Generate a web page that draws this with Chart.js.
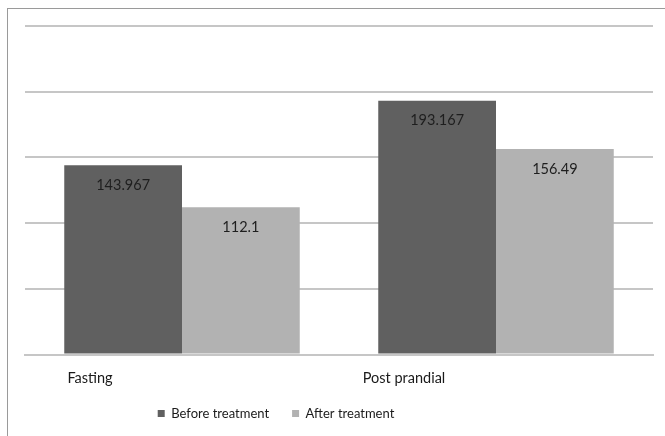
<!DOCTYPE html>
<html><head><meta charset="utf-8">
<script src="https://cdn.jsdelivr.net/npm/chart.js@4.4.1/dist/chart.umd.min.js"></script>
<style>
html,body{margin:0;padding:0;background:#fff;overflow:hidden;}
#wrap{position:relative;width:665px;height:436px;}
#frame{position:absolute;left:7px;top:8px;width:700px;height:500px;border-left:1px solid #9a9a9a;border-top:1px solid #9a9a9a;}
canvas{position:absolute;left:0;top:0;}
</style></head><body>
<div id="wrap"><div id="frame"></div><canvas id="c" width="665" height="436"></canvas></div>
<script>
const categories = ['Fasting', 'Post prandial'];
const seriesNames = ['Before treatment', 'After treatment'];
const beforeValues = [143.967, 193.167];
const afterValues = [112.1, 156.49];
const yTicks = [0, 50, 100, 150, 200, 250];

const FONT = 'Lato, sans-serif';

const valueLabels = {
  id: 'valueLabels',
  afterDatasetsDraw(chart) {
    const ctx = chart.ctx;
    ctx.save();
    ctx.font = '14.5px ' + FONT;
    ctx.fillStyle = '#1e1e1e';
    ctx.textAlign = 'center';
    ctx.textBaseline = 'middle';
    chart.data.datasets.forEach((ds, di) => {
      chart.getDatasetMeta(di).data.forEach((bar, i) => {
        ctx.fillText(String(ds.data[i]), bar.x, bar.y + 20);
      });
    });
    ctx.restore();
  }
};

const legendShift = {
  id: 'legendShift',
  afterLayout(chart) {
    const lg = chart.legend;
    if (lg) { lg.left -= 63; lg.right -= 63; lg.top -= 18; lg.bottom -= 18; }
  }
};

new Chart(document.getElementById('c'), {
  type: 'bar',
  data: {
    labels: categories,
    datasets: [
      { label: seriesNames[0], data: beforeValues, backgroundColor: '#606060', categoryPercentage: 0.75, barPercentage: 1 },
      { label: seriesNames[1], data: afterValues, backgroundColor: '#b2b2b2', categoryPercentage: 0.75, barPercentage: 1 }
    ]
  },
  options: {
    responsive: false,
    animation: false,
    devicePixelRatio: 1,
    layout: { padding: { left: 25, right: 12, top: 26, bottom: -12 } },
    scales: {
      x: {
        type: 'category',
        offset: true,
        grid: { display: false, drawTicks: false },
        border: { display: true, color: '#c6c6c6', width: 2 },
        ticks: { color: '#1a1a1a', font: { family: FONT, size: 14.5 }, padding: 15, labelOffset: -92, maxRotation: 0 }
      },
      y: {
        min: yTicks[0],
        max: yTicks[yTicks.length - 1],
        afterBuildTicks(scale) { scale.ticks = yTicks.map(v => ({ value: v })); },
        ticks: { display: false },
        grid: { color: '#c6c6c6', lineWidth: 2, drawTicks: false },
        border: { display: false }
      }
    },
    plugins: {
      legend: {
        position: 'bottom',
        labels: { boxWidth: 7, boxHeight: 7, padding: 23, color: '#1a1a1a', font: { family: FONT, size: 13 } }
      },
      tooltip: { enabled: false }
    }
  },
  plugins: [valueLabels, legendShift]
});
</script>
</body></html>
